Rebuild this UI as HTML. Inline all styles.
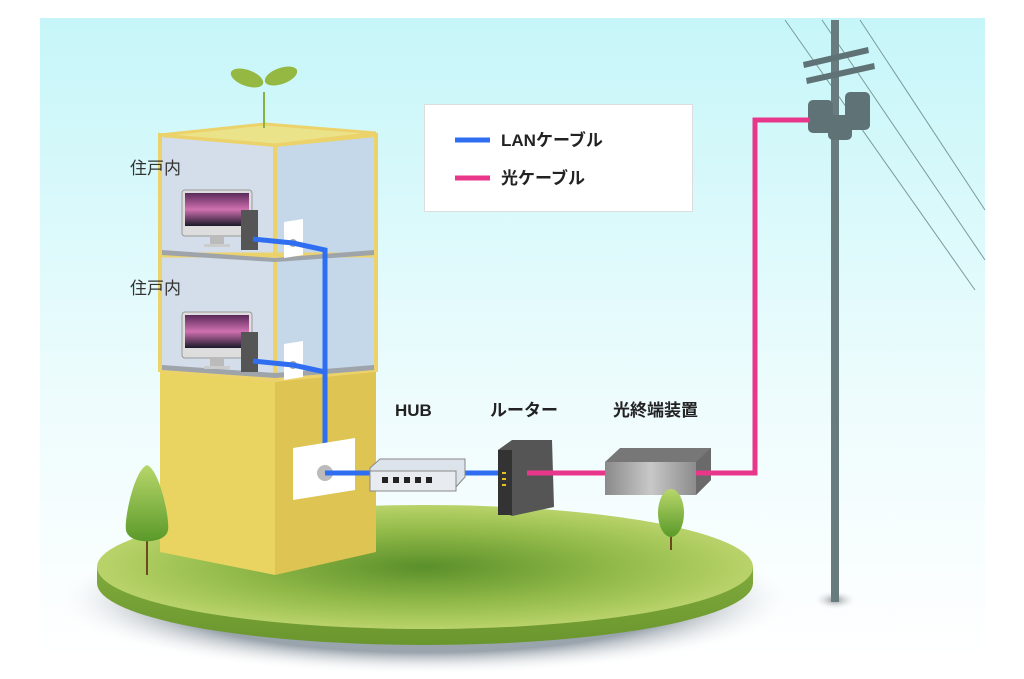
<!DOCTYPE html>
<html><head><meta charset="utf-8"><style>
html,body{margin:0;padding:0;background:#fff;width:1024px;height:679px;overflow:hidden}
svg text{font-family:"Liberation Sans","Noto Sans CJK JP",sans-serif}
</style></head><body>
<svg width="1024" height="679" viewBox="0 0 1024 679" xmlns="http://www.w3.org/2000/svg">
<defs>
<linearGradient id="sky" x1="0" y1="0" x2="0" y2="1">
<stop offset="0" stop-color="#c6f6f9"/><stop offset="0.6" stop-color="#eefcfd"/><stop offset="1" stop-color="#ffffff"/></linearGradient>
<radialGradient id="grass" cx="0.5" cy="0.5" r="0.5">
<stop offset="0" stop-color="#5a8f2a"/><stop offset="0.6" stop-color="#93bb4a"/><stop offset="1" stop-color="#b9d36a"/></radialGradient>
<linearGradient id="rim" x1="0" y1="0" x2="0" y2="1"><stop offset="0" stop-color="#80aa3c"/><stop offset="1" stop-color="#6a962e"/></linearGradient>
<radialGradient id="shadow" cx="0.5" cy="0.5" r="0.5"><stop offset="0.7" stop-color="#9aa4ad"/><stop offset="1" stop-color="#ffffff" stop-opacity="0"/></radialGradient>
<radialGradient id="pshadow" cx="0.5" cy="0.5" r="0.5"><stop offset="0" stop-color="#8b9096"/><stop offset="1" stop-color="#ffffff" stop-opacity="0"/></radialGradient>
<linearGradient id="onu" x1="0" y1="0" x2="1" y2="0"><stop offset="0" stop-color="#8a8a8a"/><stop offset="0.5" stop-color="#c8c8c8"/><stop offset="1" stop-color="#8c8c8c"/></linearGradient>
<linearGradient id="tree" x1="0" y1="0" x2="0" y2="1"><stop offset="0" stop-color="#b8d66a"/><stop offset="1" stop-color="#5a9a2a"/></linearGradient>
<linearGradient id="scr" x1="0" y1="0" x2="0" y2="1"><stop offset="0" stop-color="#5a2a5a"/><stop offset="0.5" stop-color="#d070b0"/><stop offset="1" stop-color="#1a1a2a"/></linearGradient>
</defs>
<rect x="40" y="18" width="945" height="640" fill="url(#sky)"/>
<!-- wires -->
<g stroke="#7a9a9a" stroke-width="1" fill="none">
<line x1="785" y1="20" x2="975" y2="290"/><line x1="822" y1="20" x2="985" y2="260"/><line x1="860" y1="20" x2="985" y2="210"/>
</g>
<!-- shadows -->
<ellipse cx="425" cy="600" rx="370" ry="75" fill="url(#shadow)"/>
<ellipse cx="835" cy="600" rx="22" ry="10" fill="url(#pshadow)"/>
<!-- ground -->
<path d="M97,567 L97,583 A328,62 0 0 0 753,583 L753,567 Z" fill="url(#rim)"/>
<ellipse cx="425" cy="567" rx="328" ry="62" fill="url(#grass)"/>
<!-- pole -->
<rect x="831" y="20" width="8" height="582" fill="#687c80"/>
<g fill="#5f7276">
<polygon points="803,62 868,47 869,53 804,68"/><polygon points="806,78 874,63 875,69 807,84"/>
<rect x="808" y="100" width="25" height="33" rx="5"/><rect x="845" y="92" width="25" height="38" rx="5"/><rect x="828" y="115" width="24" height="25" rx="5"/>
</g>
<!-- building -->
<polygon points="160,370 275,380 275,575 160,552" fill="#e9d462"/>
<polygon points="275,380 376,370 376,552 275,575" fill="#dec452"/>
<polygon points="160,135 275,145 275,380 160,370" fill="#d3deea" stroke="#ecd26a" stroke-width="4"/>
<polygon points="275,145 376,135 376,370 275,380" fill="#c4d8ea" stroke="#ecd26a" stroke-width="4"/>
<line x1="160" y1="255" x2="376" y2="255" stroke="#ecd26a" stroke-width="5"/>
<polygon points="162,250 275,258 374,250 374,255 275,262 162,255" fill="#9ea4aa"/>
<polygon points="162,365 275,373 374,365 374,370 275,378 162,370" fill="#9ea4aa"/>
<polygon points="160,135 265,124 376,133 275,145" fill="#ebe38a" stroke="#ecd26a" stroke-width="3"/>
<!-- sprout -->
<line x1="264" y1="128" x2="264" y2="92" stroke="#8ab040" stroke-width="2"/>
<ellipse cx="247" cy="78" rx="17" ry="8" fill="#94b842" transform="rotate(20 247 78)"/>
<ellipse cx="281" cy="76" rx="17" ry="8" fill="#94b842" transform="rotate(-20 281 76)"/>
<!-- computers -->
<g id="pc">
<rect x="182" y="190" width="70" height="46" rx="3" fill="#ddd" stroke="#999"/>
<rect x="185" y="193" width="64" height="33" fill="url(#scr)"/>
<rect x="210" y="236" width="14" height="8" fill="#bbb"/><rect x="204" y="244" width="26" height="3" fill="#ccc"/>
<rect x="241" y="210" width="17" height="40" fill="#555"/>
<polygon points="284,222 303,219 303,255 284,258" fill="#fff"/>
<circle cx="293" cy="243" r="4" fill="#aaa"/>
</g>
<use href="#pc" transform="translate(0,122)"/>
<!-- LAN cables -->
<g stroke="#2f6ef0" stroke-width="5" fill="none">
<polyline points="253,239 293,243 325,250 325,444"/>
<polyline points="253,361 293,365 325,372"/>
<line x1="325" y1="473" x2="500" y2="473"/>
</g>
<!-- wall plate -->
<polygon points="293,448 355,438 355,490 293,500" fill="#fff"/>
<circle cx="325" cy="473" r="8" fill="#bbb"/>
<line x1="325" y1="473" x2="372" y2="473" stroke="#2f6ef0" stroke-width="5"/>
<!-- HUB -->
<polygon points="370,468 380,459 465,459 465,477 455,488 370,488" fill="#dde3ea" stroke="#888"/>
<rect x="370" y="471" width="86" height="20" fill="#e8ecf0" stroke="#888"/>
<g fill="#222"><rect x="382" y="477" width="6" height="6"/><rect x="393" y="477" width="6" height="6"/><rect x="404" y="477" width="6" height="6"/><rect x="415" y="477" width="6" height="6"/><rect x="426" y="477" width="6" height="6"/></g>
<!-- router -->
<polygon points="498,450 512,440 552,440 554,507 512,516 498,510" fill="#555"/>
<rect x="498" y="450" width="14" height="65" fill="#333"/>
<g fill="#e8c020"><rect x="502" y="472" width="4" height="2"/><rect x="502" y="478" width="4" height="2"/><rect x="502" y="484" width="4" height="2"/></g>
<!-- optical -->
<g stroke="#e8368b" stroke-width="5" fill="none">
<line x1="527" y1="473" x2="610" y2="473"/>
<polyline points="700,473 755,473 755,120 810,120"/>
</g>
<polygon points="605,462 620,448 711,448 711,480 696,495 605,495" fill="#777"/>
<rect x="605" y="462" width="91" height="33" fill="url(#onu)"/>
<polygon points="696,462 711,448 711,480 696,495" fill="#6a6a6a"/>
<line x1="696" y1="473" x2="712" y2="473" stroke="#e8368b" stroke-width="5"/>
<!-- trees -->
<line x1="147" y1="540" x2="147" y2="575" stroke="#6b4a20" stroke-width="2"/>
<path d="M147,465 C160,470 170,520 168,530 C166,545 128,545 126,530 C124,520 134,470 147,465 Z" fill="url(#tree)"/>
<line x1="671" y1="528" x2="671" y2="550" stroke="#6b4a20" stroke-width="2"/>
<ellipse cx="671" cy="513" rx="13" ry="24" fill="url(#tree)"/>
<!-- legend -->
<rect x="424.5" y="104.5" width="268" height="107" fill="#fff" stroke="#ddd"/>
<line x1="455" y1="140" x2="490" y2="140" stroke="#2f6ef0" stroke-width="5"/>
<line x1="455" y1="178" x2="490" y2="178" stroke="#e8368b" stroke-width="5"/>
<g font-size="17" fill="#222" font-weight="bold">
<text x="501" y="146">LANケーブル</text>
<text x="501" y="184">光ケーブル</text>
<text x="395" y="416">HUB</text>
<text x="490" y="416">ルーター</text>
<text x="613" y="416">光終端装置</text>
</g>
<g font-size="17" fill="#333">
<text x="130" y="174">住戸内</text>
<text x="130" y="294">住戸内</text>
</g>
</svg>
</body></html>
